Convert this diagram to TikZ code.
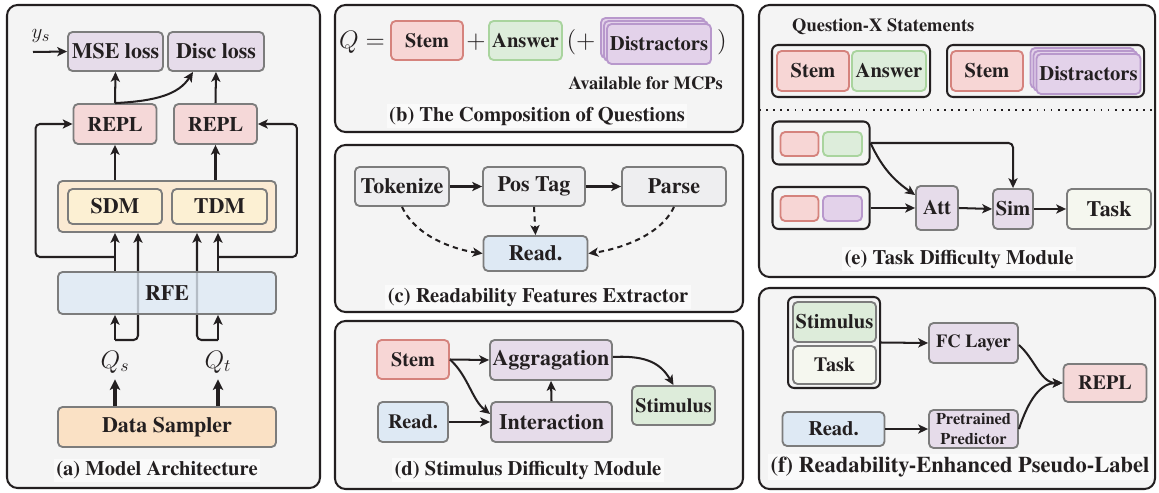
\documentclass[tikz,border=0pt]{standalone}
\usepackage{fontspec}
\setmainfont{TeX Gyre Termes}
\usetikzlibrary{arrows.meta,calc}
\definecolor{panelbg}{HTML}{F4F4F4}
\definecolor{lav}{HTML}{E6DCEA}
\definecolor{pinkR}{HTML}{F5D8D8}
\definecolor{pinkS}{HTML}{F7D6D5}
\definecolor{pinkB}{HTML}{D5837D}
\definecolor{greenA}{HTML}{DDEDDB}
\definecolor{greenB}{HTML}{A9D49E}
\definecolor{purD}{HTML}{E3D2EA}
\definecolor{purB}{HTML}{B898CC}
\definecolor{orgrp}{HTML}{FBEAD3}
\definecolor{yel}{HTML}{FCF0D3}
\definecolor{blueR}{HTML}{DEE9F4}
\definecolor{peach}{HTML}{FAE1C5}
\definecolor{grayN}{HTML}{EEEEF0}
\definecolor{taskc}{HTML}{F5F7EF}
\definecolor{stimc}{HTML}{DDECDA}
\definecolor{nodeB}{HTML}{7C7C7C}
\definecolor{ink}{HTML}{231F20}
\pgfdeclarelayer{panels}
\pgfdeclarelayer{under}
\pgfsetlayers{panels,under,main}
\tikzset{
 every node/.style={text=ink},
 wh/.style 2 args={minimum width=#1*0.2mm, minimum height=#2*0.2mm, inner sep=0pt},
 bx/.style={draw=nodeB, line width=1.05pt, rounded corners=2.6pt, font=\fontsize{12.5}{14}\selectfont\bfseries},
 panel/.style={draw=ink, line width=1.15pt, fill=panelbg, rounded corners=6pt},
 grpb/.style={draw=ink, line width=1.15pt, rounded corners=3.5pt},
 arr/.style={-{Stealth[length=5.6pt,width=5.2pt,inset=1.4pt]}, line width=1.15pt, draw=ink},
 tarr/.style={-{Stealth[length=6pt,width=5.8pt,inset=1.4pt]}, line width=1.8pt, draw=ink},
 darr/.style={arr, dash pattern=on 3pt off 2.4pt},
 captxt/.style={font=\fontsize{11.7}{14}\selectfont\bfseries, fill=white!55!panelbg, inner sep=1.5pt},
 mth/.style={font=\fontsize{14}{16}\selectfont},
 stemb/.style={bx, fill=pinkS, draw=pinkB},
 ansb/.style={bx, fill=greenA, draw=greenB},
 disb/.style={bx, fill=purD, draw=purB},
 rc/.style={rounded corners=2.5pt},
}
\begin{document}
\begin{tikzpicture}[x=0.2mm,y=-0.2mm]
\useasboundingbox (0,0) rectangle (1159,493);
\begin{pgfonlayer}{panels}
\draw[panel] (7,5) rectangle (320,488);
\draw[panel] (335,5) rectangle (743,132);
\draw[panel] (335,145) rectangle (743,312);
\draw[panel] (335,321) rectangle (743,489);
\draw[panel] (759,5) rectangle (1155,277);
\draw[panel] (759,288) rectangle (1155,489);
\end{pgfonlayer}

% ---------------- (a) ----------------
\node[bx,fill=lav,wh={95}{39}] (mse) at (115.5,51.5) {MSE loss};
\node[bx,fill=lav,wh={96}{39}] (disc) at (216,51.5) {Disc loss};
\node[bx,fill=pinkR,wh={83}{40},font=\fontsize{11.8}{14}\selectfont\bfseries] (repl1) at (115,124) {REPL};
\node[bx,fill=pinkR,wh={83}{40},font=\fontsize{11.8}{14}\selectfont\bfseries] (repl2) at (215.5,124) {REPL};
\node[bx,fill=orgrp,wh={218}{51}] (grp) at (167,206.5) {};
\node[bx,fill=yel,wh={94}{35}] (sdm) at (115,206.5) {SDM};
\node[bx,fill=yel,wh={95}{35}] (tdm) at (219.5,206.5) {TDM};
\node[bx,fill=blueR,fill opacity=0.78,text opacity=1,wh={218}{42}] (rfe) at (167,293) {RFE};
\node[bx,fill=peach,wh={218}{40}] (ds) at (167,427) {Data Sampler};
\node[font=\fontsize{12.5}{14}\selectfont] (ys) at (41,36) {$y_s$};
\coordinate (ysin) at (33,52);
\node[mth] (qs) at (115,362) {$Q_s$};
\node[mth] (qt) at (218,362) {$Q_t$};
\coordinate (qsj) at (115,340);
\coordinate (qtj) at (218,340);
\coordinate (ls) at (115,257);
\coordinate (rs) at (218,257);
\node[captxt] (capa) at (157,470) {(a) Model Architecture};

\draw[arr] (ysin) -- (mse.west);
\draw[arr] (repl1.north) -- (mse.south);
\draw[arr] (repl1.north) .. controls +(42,-2) and +(-14,22) .. ($(disc.south)+(-23,0)$);
\draw[arr] (repl2.north) -- (disc.south);
\draw[arr] (repl1.south |- grp.north) -- (repl1.south);
\draw[arr] (repl2.south |- grp.north) -- (repl2.south);
\draw[arr] (ls |- rfe.north) -- (ls |- grp.south);
\draw[arr] (rs |- rfe.north) -- (rs |- grp.south);
\draw[arr,rc] (ls) -| ($(repl1.west)+(-37,0)$) -- (repl1.west);
\draw[arr,rc] (rs) -| ($(repl2.east)+(39,0)$) -- (repl2.east);
\draw[arr] (qsj) -- (qsj |- rfe.south);
\draw[arr] (qtj) -- (qtj |- rfe.south);
\begin{pgfonlayer}{under}
\draw[arr,rc] (qsj) -| ($(qsj |- grp.south)+(23,0)$);
\draw[arr,rc] (qtj) -| ($(qtj |- grp.south)+(-21,0)$);
\end{pgfonlayer}
\draw[tarr] (qs.south |- ds.north) -- (qs.south);
\draw[tarr] (qt.south |- ds.north) -- (qt.south);

% ---------------- (b) ----------------
\node[mth] (qeq) at (362,42) {$Q=$};
\node[stemb,wh={72}{39},font=\fontsize{11.5}{14}\selectfont\bfseries] (stemb1) at (427,40.5) {Stem};
\node[mth] (plus1) at (476,42) {$+$};
\node[ansb,wh={73}{39},font=\fontsize{11.7}{14}\selectfont\bfseries] (ansb1) at (525.5,40.5) {Answer};
\node[mth] (lpar) at (581,42) {$(+$};
\node[disb,wh={104}{40}] (dbk) at (653,38) {};
\node[disb,wh={104}{40}] (dmd) at (656,41) {};
\node[disb,wh={104}{40},font=\fontsize{11.7}{14}\selectfont\bfseries] (dfr) at (659,44) {Distractors};
\node[mth] (rpar) at (722,42) {$)$};
\node[anchor=east,font=\fontsize{10.5}{12}\selectfont\bfseries] (avail) at (729,83) {Available for MCPs};
\node[captxt] (capb) at (537,116) {(b) The Composition of Questions};

% ---------------- (c) ----------------
\node[bx,fill=grayN,wh={94}{39}] (tok) at (402,186.5) {Tokenize};
\node[bx,fill=grayN,wh={102}{39}] (pos) at (534,186.5) {Pos Tag};
\node[bx,fill=grayN,wh={104}{39}] (parse) at (674,186.5) {Parse};
\node[bx,fill=blueR,wh={104}{35}] (readc) at (535.5,253.5) {Read.};
\node[captxt] (capc) at (538,297) {(c) Readability Features Extractor};
\draw[arr] (tok.east) -- (pos.west);
\draw[arr] (pos.east) -- (parse.west);
\draw[darr] (pos.south) -- (readc.north);
\draw[darr] (tok.south) .. controls +(14,30) and +(-28,-4) .. (readc.west);
\draw[darr] (parse.south) .. controls +(-14,30) and +(28,-4) .. (readc.east);

% ---------------- (d) ----------------
\node[stemb,wh={72}{39},font=\fontsize{11.5}{14}\selectfont\bfseries] (stemd) at (413,359.5) {Stem};
\node[bx,fill=lav,wh={122}{40}] (agg) at (551,360) {Aggragation};
\node[bx,fill=blueR,wh={70}{40},font=\fontsize{11.5}{14}\selectfont\bfseries] (readd) at (413,422) {Read.};
\node[bx,fill=lav,wh={121}{40}] (inter) at (551.5,422) {Interaction};
\node[bx,fill=stimc,wh={83}{39},font=\fontsize{11.5}{14}\selectfont\bfseries] (stimd) at (673.5,405.5) {Stimulus};
\node[captxt] (capd) at (528,470) {(d) Stimulus Difficulty Module};
\draw[arr] (stemd.east) -- (agg.west);
\draw[arr] (stemd.east) .. controls +(18,16) and +(-18,-14) .. ($(inter.west)+(0,-8)$);
\draw[arr,line width=1.6pt] (readd.east) -- (inter.west);
\draw[arr] (inter.north) -- (agg.south);
\draw[arr] ($(agg.east)+(0,-3)$) .. controls +(36,-2) and +(-12,-20) .. (stimd.north);

% ---------------- (e) ----------------
\node[anchor=west,font=\fontsize{10.5}{12}\selectfont\bfseries] (qx) at (786,27) {Question-X Statements};
\node[grpb,wh={158}{52}] (g1) at (851,71) {};
\node[stemb,wh={72}{40},font=\fontsize{11.7}{14}\selectfont\bfseries] (stemE1) at (813,71) {Stem};
\node[ansb,wh={74}{40},font=\fontsize{11.7}{14}\selectfont\bfseries] (ansE) at (889,71) {Answer};
\node[grpb,wh={197}{52}] (g2) at (1045.5,71) {};
\node[stemb,wh={72}{40},font=\fontsize{11.7}{14}\selectfont\bfseries] (stemE2) at (987,71) {Stem};
\node[disb,wh={104}{40}] (ebk) at (1082.5,68) {};
\node[disb,wh={104}{40}] (emd) at (1085.5,71) {};
\node[disb,wh={104}{40},font=\fontsize{11.7}{14}\selectfont\bfseries] (efr) at (1088.5,74) {Distractors};
\draw[line width=0.95pt, dash pattern=on 0.95pt off 3.1pt, ink] (759,110) -- (1155,110);
\node[grpb,wh={97}{43}] (sg1) at (821,143) {};
\node[stemb,wh={38}{24}] (p1) at (799.5,144) {};
\node[ansb,wh={39}{24}] (gr1) at (842.5,144) {};
\node[grpb,wh={97}{42}] (sg2) at (821,208) {};
\node[stemb,wh={38}{25}] (p2) at (799.5,208.5) {};
\node[disb,wh={39}{25}] (pu2) at (842.5,208.5) {};
\node[bx,fill=lav,wh={42}{44},font=\fontsize{11.7}{14}\selectfont\bfseries] (att) at (937,208) {Att};
\node[bx,fill=lav,wh={40}{40},font=\fontsize{11.7}{14}\selectfont\bfseries] (sim) at (1013,209) {Sim};
\node[bx,fill=taskc,wh={84}{40},font=\fontsize{12.5}{14}\selectfont\bfseries] (taske) at (1109,209) {Task};
\node[captxt] (cape) at (959,259) {(e) Task Difficulty Module};
\draw[arr,rc] (sg1.east) -| (sim.north);
\draw[arr] (sg1.east) .. controls +(12,26) and +(-20,-14) .. ($(att.west)+(0,-13)$);
\draw[arr] (sg2.east) -- (att.west);
\draw[arr] (att.east) -- (sim.west);
\draw[arr] (sim.east) -- (taske.west);

% ---------------- (f) ----------------
\node[grpb,wh={92}{91}] (gf) at (834,342.5) {};
\node[bx,fill=stimc,wh={83}{40},font=\fontsize{11.7}{14}\selectfont\bfseries] (stimf) at (834.5,322) {Stimulus};
\node[bx,fill=taskc,wh={83}{38},font=\fontsize{11.5}{14}\selectfont\bfseries] (taskf) at (834.5,365) {Task};
\node[bx,fill=lav,wh={89}{40},font=\fontsize{10.5}{12}\selectfont\bfseries] (fc) at (973.5,343) {FC Layer};
\node[bx,fill=lav,wh={89}{38},font=\fontsize{9.3}{11}\selectfont\bfseries,align=center] (pp) at (973.5,429) {Pretrained\\Predictor};
\node[bx,fill=blueR,wh={102}{34},font=\fontsize{11.7}{14}\selectfont\bfseries] (readf) at (833.5,429) {Read.};
\node[bx,fill=pinkR,wh={83}{38},font=\fontsize{11.5}{14}\selectfont\bfseries] (replf) at (1105,383) {REPL};
\node[captxt,font=\fontsize{12.8}{15}\selectfont\bfseries] (capf) at (960,467) {(f) Readability-Enhanced Pseudo-Label};
\draw[arr] (gf.east) -- (fc.west);
\draw[arr] (readf.east) -- (pp.west);
\draw[arr] ($(fc.east)+(0,2)$) .. controls +(16,14) and +(-22,0) .. (replf.west);
\draw[arr] (pp.east) .. controls +(10,-30) and +(-22,0) .. (replf.west);
\end{tikzpicture}
\end{document}
